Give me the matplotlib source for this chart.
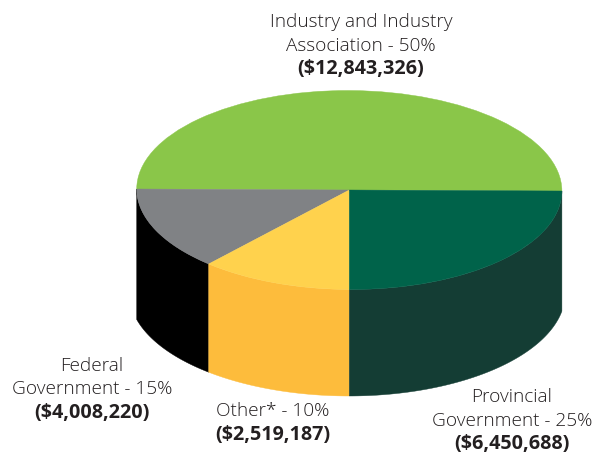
import numpy as np
import matplotlib
matplotlib.use("Agg")
import matplotlib.pyplot as plt
from matplotlib.patches import Wedge
from matplotlib.transforms import Affine2D

# slices, counter clockwise from the right hand edge of the pie
# shares are what the drawing shows, the printed percentages are rounder
names = ["Industry and Industry\nAssociation", "Federal\nGovernment", "Other*", "Provincial\nGovernment"]
percents = [50, 15, 10, 25]
amounts = ["$12,843,326", "$4,008,220", "$2,519,187", "$6,450,688"]
shares = [50.0, 13.5, 11.5, 25.0]

top_colors = ["#8AC649", "#808285", "#FFD24D", "#00634A"]
side_colors = [None, "#000000", "#FDBC3C", "#143D34"]

W, H = 597, 453
CX, CY = 349.3, 190
RX, RY = 212.6, 99.5
TILT = 0.27
DEPTH = 103
BOTTOM_RX = {"left": 220, "right": 216}

# label blocks: x centre, y centre of every line, in pixels
label_pos = [
    (361, [22, 46, 69]),
    (92, [366, 389, 413]),
    (273, [411, 435]),
    (512, [397, 421, 444]),
]


def top_edge(t):
    x = CX + RX * np.cos(t)
    y = CY - RY * np.sin(t) + (x - CX) * np.tan(np.radians(TILT))
    return x, y


def bottom_edge(x):
    rx = np.where(x < CX, BOTTOM_RX["left"], BOTTOM_RX["right"])
    return CY + DEPTH + DEPTH * np.sqrt(1 - ((x - CX) / rx) ** 2)


fig = plt.figure(figsize=(W / 100, H / 100), dpi=100)
ax = fig.add_axes([0, 0, 1, 1])
ax.set_xlim(0, W)
ax.set_ylim(H, 0)
ax.axis("off")

face = Affine2D().scale(RX, -RY).skew_deg(0, TILT).translate(CX, CY) + ax.transData

theta = 0.0
for i, share in enumerate(shares):
    sweep = 360 * share / 100
    t1, t2 = theta, theta + sweep
    theta = t2

    # wall below the front half of the rim
    if side_colors[i] is not None:
        t = np.radians(np.linspace(t1, t2, 120))
        x, y = top_edge(t)
        ax.fill(np.r_[x, x[::-1]], np.r_[y, bottom_edge(x)[::-1]],
                color=side_colors[i], lw=0.3, zorder=1)

    ax.add_patch(Wedge((0, 0), 1, t1, t2, transform=face,
                       facecolor=top_colors[i], edgecolor=top_colors[i], lw=0.3, zorder=2))

# text
text_color = "#231F20"
for name, pct, amount, (x, ys) in zip(names, percents, amounts, label_pos):
    lines = name.split("\n")
    lines[-1] += f" - {pct}%"
    for line, y in zip(lines, ys):
        ax.text(x, y, line, ha="center", va="center", fontsize=13.7,
                family="Open Sans", fontweight="light", color=text_color)
    ax.text(x, ys[-1], f"({amount})", ha="center", va="center", fontsize=14.2,
            family="Open Sans", fontweight="bold", color=text_color)

fig.savefig("out.png", dpi=100)
